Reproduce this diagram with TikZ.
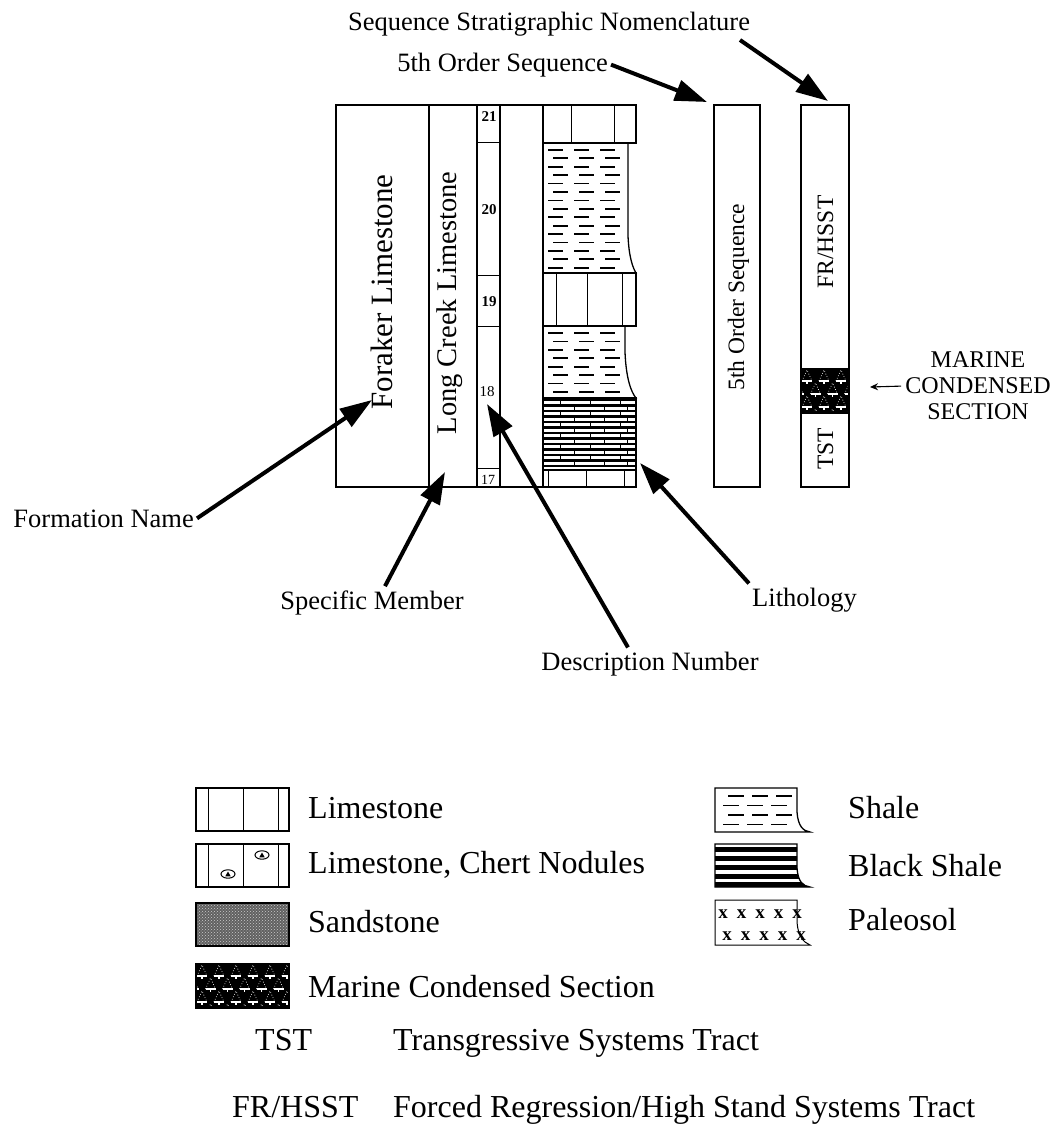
\documentclass[tikz,border=0pt]{standalone}
\usepackage{fontspec}
\setmainfont{Liberation Serif}
\usetikzlibrary{arrows.meta,patterns}

\newcommand\mcspat[4]{%
  \begin{scope}
    \clip (#1,#2) rectangle (#3,#4);
    \fill[black] (#1,#2) rectangle (#3,#4);
    \foreach \ri in {0,...,4}{
      \foreach \ci in {-1,...,7}{
        \pgfmathsetmacro\xx{#1+\ci*17+mod(\ri,2)*8.5+6}
        \pgfmathsetmacro\yy{#2+12+\ri*13}
        \draw[white,line width=1.1pt] (\xx-5,\yy) -- (\xx+5,\yy) (\xx,\yy) -- (\xx,\yy+3);
        \draw[white,line width=0.7pt,dotted] (\xx-5,\yy) -- (\xx,\yy-11) -- (\xx+5,\yy);
      }
    }
  \end{scope}
  \draw[line width=1.2pt] (#1,#2) rectangle (#3,#4);
}

\begin{document}
\begin{tikzpicture}[x=1pt,y=-1pt,
  frame/.style={draw=black,line width=1.3pt},
  thin/.style={draw=black,line width=1pt},
  lbl/.style={font=\fontsize{26.5}{30}\selectfont,inner sep=0pt},
  collbl/.style={rotate=90,anchor=base,inner sep=0pt},
  leg/.style={font=\fontsize{32}{36}\selectfont,inner sep=0pt,anchor=base west},
  numlbl/.style={font=\bfseries\fontsize{15}{16}\selectfont,inner sep=0pt,anchor=base},
  bigarrow/.style={line width=4pt,-{Triangle[length=32pt,width=21pt]}},
  shdash/.style={line width=1.8pt},
  pxx/.style={font=\bfseries\fontsize{19}{20}\selectfont,inner sep=0pt,anchor=base},
]
\useasboundingbox (0,0) rectangle (1058,1126);

% ---------- main block ----------
\draw[frame] (336,105) rectangle (543,487);
\draw[frame] (429,105) -- (429,487) (477,105) -- (477,487) (500,105) -- (500,487);
\draw[thin] (477,143) -- (500,143) (477,275) -- (500,275) (477,326) -- (500,326) (477,468) -- (500,468);

\node[collbl,font=\fontsize{31}{34}\selectfont] (foraker) at (392,292) {Foraker Limestone};
\node[collbl,font=\fontsize{28.5}{31}\selectfont] (longcreek) at (456,303) {Long Creek Limestone};

\node[numlbl] (n21) at (489,122) {21};
\node[numlbl] (n20) at (489,214) {20};
\node[numlbl] (n19) at (489,306) {19};
\node[numlbl,font=\fontsize{15}{16}\selectfont] (n18) at (487,396) {18};
\node[numlbl,font=\fontsize{14}{15}\selectfont] (n17) at (488,484) {17};

% ---------- lithology ----------
\draw[frame] (543,105) rectangle (636,143);
\draw[thin] (571,105) -- (571,143) (614,105) -- (614,143);
\draw[frame] (543,143) -- (628,143) -- (628,236) .. controls (629,258) and (633,268) .. (636,273) -- (543,273);
\foreach \k in {0,...,14}{
  \pgfmathsetmacro\yy{150+\k*8.4}
  \pgfmathsetmacro\oo{mod(\k,2)*5}
  \draw[shdash] (548+\oo,\yy) -- (563+\oo,\yy) (574+\oo,\yy) -- (589+\oo,\yy) (600+\oo,\yy) -- (615+\oo,\yy);
}
\draw[frame] (543,273) rectangle (636,326);
\draw[thin] (556,273) -- (556,326) (587,273) -- (587,326) (622,273) -- (622,326);
\draw[frame] (543,326) -- (625,326) -- (625,352) .. controls (626,378) and (631,392) .. (636,398) -- (543,398);
\foreach \k in {0,...,7}{
  \pgfmathsetmacro\yy{333+\k*8.4}
  \pgfmathsetmacro\oo{mod(\k,2)*5}
  \draw[shdash] (548+\oo,\yy) -- (563+\oo,\yy) (574+\oo,\yy) -- (589+\oo,\yy) (600+\oo,\yy) -- (615+\oo,\yy);
}
\draw[frame] (543,398) rectangle (636,470);
\foreach \k in {0,...,12}{
  \pgfmathsetmacro\yy{400+\k*5.5}
  \draw[line width=2.2pt] (543,\yy) -- (636,\yy);
}
\foreach \k in {0,...,11}{
  \pgfmathsetmacro\yy{402.7+\k*5.5}
  \pgfmathsetmacro\oo{mod(\k,2)*14}
  \draw[line width=1pt] (560+\oo,\yy-1.5) -- (560+\oo,\yy+1.5) (590+\oo,\yy-1.5) -- (590+\oo,\yy+1.5) (620+\oo/2,\yy-1.5) -- (620+\oo/2,\yy+1.5);
}
\draw[frame] (543,470) rectangle (636,487);
\draw[thin] (548,470) -- (548,487) (586,470) -- (586,487) (624,470) -- (624,487);

% ---------- 5th order sequence column ----------
\draw[frame] (714,105) rectangle (760,487);
\node[collbl,font=\fontsize{23.5}{26}\selectfont] (fifthcol) at (744,297) {5th Order Sequence};

% ---------- nomenclature column ----------
\draw[frame] (801,105) rectangle (849,487);
\mcspat{801}{369}{849}{413}
\node[collbl,font=\fontsize{23.5}{26}\selectfont] (frhsst) at (833,242) {FR/HSST};
\node[collbl,font=\fontsize{23.5}{26}\selectfont] (tst) at (833,449) {TST};

\node[inner sep=0pt,align=center,font=\fontsize{24}{26}\selectfont] (mcstext) at (978,386) {MARINE\\CONDENSED\\SECTION};
\coordinate (mcstip) at (870,387);
\draw[line width=1.1pt,-{Stealth[length=8pt,width=7pt]},shorten <=4pt] (mcstext.west) -- (mcstip);

% ---------- labels and arrows ----------
\node[lbl,anchor=base west] (ssn) at (348,31) {Sequence Stratigraphic Nomenclature};
\node[lbl,anchor=base east] (fos) at (608,72) {5th Order Sequence};
\node[lbl,anchor=base east] (fname) at (194,527) {Formation Name};
\node[lbl,anchor=base] (smem) at (372,609) {Specific Member};
\node[lbl,anchor=base] (dnum) at (650,670) {Description Number};
\node[lbl,anchor=base west] (lith) at (752,606) {Lithology};

\coordinate (tailssn) at (740,40);
\coordinate (tipssn) at (828,101);
\coordinate (tipfos) at (707,102);
\coordinate (tipfname) at (372,400);
\coordinate (tipsmem) at (445,472);
\coordinate (tipdnum) at (487,404);
\coordinate (tiplith) at (640,463);

\draw[bigarrow] (tailssn) -- (tipssn);
\draw[bigarrow] ([xshift=3pt,yshift=1pt]fos.east) -- (tipfos);
\draw[bigarrow] ([xshift=3pt]fname.east) -- (tipfname);
\draw[bigarrow] ([xshift=13pt,yshift=4pt]smem.north) -- (tipsmem);
\draw[bigarrow] ([xshift=-22pt,yshift=4pt]dnum.north) -- (tipdnum);
\draw[bigarrow] ([xshift=-3pt,yshift=4pt]lith.north west) -- (tiplith);

% ---------- legend ----------
\draw[frame] (196,788) rectangle (289,831);
\draw[thin] (208,788) -- (208,831) (243,788) -- (243,831) (278,788) -- (278,831);
\node[leg] (lgls) at (308,818) {Limestone};
\draw[frame] (196,844) rectangle (289,887);
\draw[thin] (208,844) -- (208,887) (243,844) -- (243,887) (278,844) -- (278,887);
\draw[line width=1pt] (228,874) ellipse (7pt and 4.2pt) (262,855) ellipse (7pt and 4.2pt);
\fill (225.3,876.3) -- (230.7,876.3) -- (228,871.5) -- cycle;
\fill (259.3,857.3) -- (264.7,857.3) -- (262,852.5) -- cycle;
\node[leg] (lgch) at (308,873) {Limestone, Chert Nodules};
\fill[black!62] (196,903) rectangle (289,946);
\fill[pattern=crosshatch dots,pattern color=black!20] (196,903) rectangle (289,946);
\draw[line width=1.2pt] (196,903) rectangle (289,946);
\node[leg] (lgss) at (308,932) {Sandstone};
\mcspat{196}{964}{289}{1008}
\node[leg] (lgmcs) at (308,997) {Marine Condensed Section};
\node[leg] (lgtst) at (255,1050) {TST};
\node[leg] (lgtstd) at (393,1050) {Transgressive Systems Tract};
\node[leg] (lgfr) at (232,1117) {FR/HSST};
\node[leg] (lgfrd) at (393,1117) {Forced Regression/High Stand Systems Tract};

\draw[frame] (715,788) -- (797,788) -- (797,812) .. controls (798,826) and (803,831) .. (810,832) -- (715,832) -- cycle;
\foreach \k in {0,...,3}{
  \pgfmathsetmacro\yy{796+\k*9.5}
  \pgfmathsetmacro\oo{mod(\k+1,2)*5}
  \draw[shdash] (723+\oo,\yy) -- (739+\oo,\yy) (747+\oo,\yy) -- (763+\oo,\yy) (771+\oo,\yy) -- (787+\oo,\yy);
}
\node[leg] (lgsh) at (848,818) {Shale};
\begin{scope}
  \clip (715,844) -- (797,844) -- (797,868) .. controls (798,882) and (803,886) .. (810,887) -- (715,887) -- cycle;
  \foreach \yy in {847,856,865,874}{ \fill (700,\yy) rectangle (820,\yy+5); }
  \fill (700,882) rectangle (820,888);
\end{scope}
\draw[frame] (715,844) -- (797,844) -- (797,868) .. controls (798,882) and (803,886) .. (810,887) -- (715,887) -- cycle;
\node[leg] (lgbs) at (848,876) {Black Shale};
\draw[thin] (715,900) -- (797,900) -- (797,922) .. controls (798,936) and (803,942) .. (810,945) -- (715,945) -- cycle;
\foreach \i in {0,...,4}{
  \node[pxx] (pa\i) at (723+\i*18.5,918) {x};
  \node[pxx] (pb\i) at (727+\i*18.5,940) {x};
}
\node[leg] (lgpa) at (848,930) {Paleosol};
\end{tikzpicture}
\end{document}
